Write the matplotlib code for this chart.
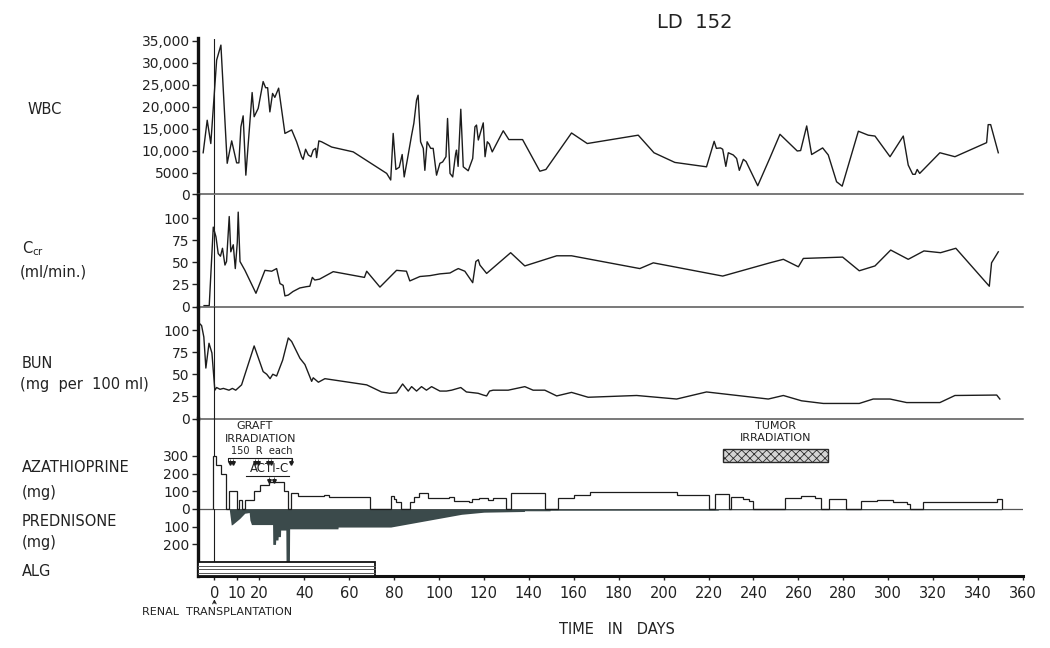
import matplotlib
matplotlib.use("Agg")
import matplotlib.pyplot as plt
from matplotlib.patches import Rectangle

plt.rcParams['font.family'] = ['DejaVu Sans']
plt.rcParams['hatch.linewidth'] = 0.6

# ---------------- data ----------------
wbc_days = [-5.0, -3.2, -1.6, 1.0, 2.9, 5.7, 7.7, 9.9, 10.9, 11.8,
            12.8, 14.0, 16.8, 17.7, 19.5, 21.7, 22.8, 23.7, 24.7, 25.9,
            26.9, 28.6, 31.4, 34.4, 36.6, 38.8, 39.5, 40.6, 41.8, 43.0,
            44.0, 45.1, 45.5, 46.5, 47.7, 52.2, 61.8, 76.7, 78.5, 79.6,
            80.8, 82.3, 83.6, 84.5, 86.0, 87.8, 88.8, 90.0, 90.7, 91.8,
            93.0, 93.7, 94.7, 96.3, 97.4, 98.9, 100.4, 101.6, 103.1, 103.8,
            104.9, 106.1, 107.4, 107.8, 108.5, 109.7, 110.8, 113.0, 115.0, 116.0,
            116.7, 117.5, 119.7, 120.5, 121.5, 122.4, 123.7, 128.6, 131.1, 137.2,
            144.9, 147.6, 159.0, 166.0, 188.7, 195.7, 205.0, 219.1, 222.5, 223.5,
            225.3, 226.3, 227.7, 228.8, 231.0, 232.5, 233.7, 235.5, 236.7, 241.9,
            247.3, 251.8, 259.5, 261.0, 263.7, 265.9, 270.8, 273.3, 277.0, 279.5,
            286.7, 291.1, 294.1, 300.8, 306.7, 308.9, 310.9, 312.0, 312.9, 314.0,
            323.0, 329.7, 343.8, 344.5, 345.6, 349.0]
wbc = [9500, 16900, 11600, 30600, 34000, 7100, 12200, 7200, 7200, 15400,
       17900, 4400, 23200, 17700, 19600, 25700, 24300, 24300, 18800, 23000,
       22100, 24200, 13900, 14700, 12000, 8600, 8000, 10300, 9000, 8600,
       10100, 10500, 8400, 12200, 12000, 10800, 9700, 4800, 3300, 13900,
       5700, 6200, 9100, 4000, 8200, 13500, 16200, 21500, 22600, 12000,
       10500, 5500, 12000, 10500, 10500, 4400, 7100, 7400, 8600, 17300,
       4800, 4000, 9300, 10100, 6400, 19400, 6300, 5400, 8200, 15400,
       15800, 12400, 16300, 8600, 12000, 11500, 9700, 14500, 12500, 12500,
       5300, 5700, 14000, 11600, 13500, 9500, 7300, 6300, 12100, 10500,
       10600, 10300, 6400, 9500, 9000, 8200, 5500, 8000, 7500, 2000,
       8300, 13700, 9900, 10000, 15600, 9100, 10600, 9000, 2900, 1900,
       14400, 13500, 13300, 8600, 13300, 6700, 4600, 4600, 5700, 4800,
       9500, 8600, 11800, 15900, 15900, 9500]

ccr_days = [-4.6, -2.3, -0.5, 0.7, 1.7, 2.7, 3.6, 4.7, 5.4, 6.6,
            7.3, 8.4, 9.3, 10.2, 10.6, 11.4, 13.6, 18.5, 22.5, 25.5,
            27.7, 29.2, 30.6, 31.4, 32.9, 35.0, 38.0, 41.0, 42.5, 43.6,
            44.7, 46.8, 52.9, 66.8, 67.8, 73.7, 81.1, 85.5, 87.0, 91.5,
            96.0, 100.4, 104.9, 107.0, 108.6, 111.5, 115.0, 116.4, 117.5, 118.2,
            121.2, 131.9, 138.2, 152.4, 159.0, 189.4, 195.4, 226.3, 247.3, 253.3,
            260.0, 262.2, 279.7, 287.1, 294.1, 301.1, 308.9, 315.9, 323.3, 330.1,
            345.0, 346.0, 349.0]
ccr = [1, 1, 90, 79, 60, 57, 66, 47, 51, 102,
       62, 70, 43, 73, 107, 51, 41, 15, 41, 40,
       43, 26, 24, 12, 13, 17, 21, 22.5, 23, 33,
       30, 31, 39.5, 33, 40, 22, 41, 40, 29, 34,
       35, 37, 38, 41, 43, 40, 27, 51, 53, 47,
       37.5, 61, 46, 57.5, 57.5, 43, 49.5, 34.5, 49.5, 53.5,
       45, 54.5, 56, 40.5, 46, 64, 53.5, 63, 61, 66,
       23, 49.5, 62]

bun_days = [-6.9, -5.7, -4.7, -3.8, -2.4, -1.1, 0.2, 1.0, 2.5, 4.0,
            6.5, 8.0, 9.5, 12.1, 17.7, 21.7, 23.3, 24.8, 26.0, 27.7,
            30.4, 32.9, 34.4, 38.1, 40.3, 43.3, 44.0, 46.3, 49.2, 67.8,
            74.4, 78.1, 81.1, 83.8, 86.3, 87.8, 90.0, 92.2, 94.4, 96.7,
            98.9, 100.4, 103.3, 105.6, 109.7, 112.2, 117.4, 119.7, 121.2, 122.5,
            124.1, 130.8, 138.2, 141.9, 147.1, 152.4, 159.0, 166.4, 188.0, 205.8,
            219.1, 246.6, 253.3, 261.4, 271.1, 287.1, 293.3, 300.8, 308.2, 323.0,
            329.7, 348.3, 349.7]
bun = [108, 105, 92, 57, 85, 74, 32, 35, 33, 34,
       32, 34, 32, 38, 82, 53, 50, 45, 50, 48,
       66, 91, 87, 68, 61, 42, 46, 41, 45, 38,
       30, 28.5, 29, 39, 31, 36, 31, 36, 32, 36,
       33, 31, 31, 32, 35, 30, 28.5, 26.5, 25.5, 31,
       32, 32, 36, 32, 32, 25.5, 29.5, 24, 26, 22,
       30, 22, 26, 20, 17, 17, 22, 22, 18, 18,
       26, 26.5, 22]

# azathioprine dose steps: value holds from edge[i] to edge[i+1]
aza_edges = [-0.8, 0.7, 3.0, 5.1, 6.6, 9.9, 10.9, 12.5, 13.7, 17.5,
             20.2, 24.5, 31.2, 32.6, 34.0, 37.0, 49.0, 51.0, 69.2, 78.5,
             79.8, 81.0, 83.0, 87.0, 89.0, 91.0, 95.0, 104.6, 106.5, 113.4,
             114.5, 118.0, 122.0, 124.0, 129.8, 132.0, 147.1, 152.8, 160.2, 167.2,
             205.8, 220.3, 222.8, 229.0, 230.0, 235.5, 238.0, 240.0, 254.0, 261.0,
             267.4, 270.0, 273.7, 281.0, 287.8, 294.8, 302.0, 308.2, 309.7, 315.6,
             348.3, 350.5]
aza_mg = [300, 250, 200, 0, 100, 0, 50, 0, 50, 100,
          135, 150, 100, 0, 88, 75, 80, 70, 0, 72,
          55, 42, 0, 40, 70, 88, 62, 68, 48, 40,
          55, 60, 50, 64, 0, 92, 0, 64, 79, 94,
          79, 0, 83, 0, 70, 55, 45, 0, 60, 75,
          60, 0, 56, 0, 45, 51, 41, 28, 0, 41,
          56]

pred_days = [6.6, 7.5, 8.0, 11.3, 13.5, 15.5, 15.8, 16.5, 25.9, 26.0,
             27.2, 27.3, 28.3, 28.4, 29.4, 29.5, 31.8, 31.9, 33.4, 33.5,
             55.0, 55.1, 78.5, 96.0, 110.0, 120.0, 138.0, 138.1, 149.4, 149.5,
             224.3, 224.4, 350.5]
pred_mg = [0, 90, 88, 53, 24, 20, 62, 88, 88, 200,
           200, 175, 175, 156, 156, 119, 119, 300, 300, 112,
           112, 102, 102, 62, 30, 18, 14, 10, 10, 7,
           7, 4, 4]

alg_period = (-7.3, 71.6)
graft_irr_days = [7.0, 8.1, 18.0, 19.2, 24.0, 25.2, 33.9]
acti_c_days = [24.3, 26.6]
tumor_irr_period = (226.5, 273.0)

x_ticks = [0, 10, 20, 40, 60, 80, 100, 120, 140, 160, 180, 200, 220, 240,
           260, 280, 300, 320, 340, 360]
wbc_ticks = [0, 5000, 10000, 15000, 20000, 25000, 30000, 35000]
wbc_labels = ['0', '5000', '10,000', '15,000', '20,000', '25,000', '30,000', '35,000']
lab_ticks = [0, 25, 50, 75, 100]
drug_ticks = [-200, -100, 0, 100, 200, 300]
drug_labels = ['200', '100', '0', '100', '200', '300']

# ---------------- layout ----------------
W, H = 1050, 648
fig = plt.figure(figsize=(W / 100, H / 100), dpi=100)
fig.patch.set_facecolor('white')


def px_axes(left, top, right, bottom):
    return fig.add_axes([left / W, 1 - bottom / H, (right - left) / W, (bottom - top) / H])


XL, XR = 198, 1023
XLIM = (-7.3, 360.0)
ax1 = px_axes(XL, 38.5, XR, 194.5)
ax2 = px_axes(XL, 194.5, XR, 306.5)
ax3 = px_axes(XL, 306.5, XR, 418.5)
ax4 = px_axes(XL, 418.5, XR, 576)

ax1.set_ylim(0, 35000 * (194.5 - 38.5) / (194.5 - 40.7))
ax2.set_ylim(0, 112 / 0.882)
ax3.set_ylim(0, 112 / 0.885)
ax4.set_ylim(-(576 - 509) / 0.177, (509 - 418.5) / 0.177)

LC = '#1c1c1c'
TC = '#222222'
for ax in (ax1, ax2, ax3, ax4):
    ax.set_xlim(*XLIM)
    ax.set_facecolor('none')
    for s in ('top', 'right'):
        ax.spines[s].set_visible(False)
    ax.spines['left'].set_linewidth(2.4)
    ax.spines['left'].set_color('#111111')
    ax.tick_params(axis='y', labelsize=10, length=4, width=1, pad=2, colors=TC)

for ax in (ax1, ax2, ax3):
    ax.axvline(0, color=LC, lw=0.8, zorder=1)
    ax.spines['bottom'].set_linewidth(1.1)
    ax.spines['bottom'].set_color('#555555')
    ax.set_xticks([])

ax4.spines['bottom'].set_linewidth(2.2)
ax4.spines['bottom'].set_color('#111111')
ax4.set_xticks(x_ticks)
ax4.set_xticklabels([str(t) for t in x_ticks])
ax4.tick_params(axis='x', labelsize=10.5, length=3, width=1, pad=4, colors=TC)

# ---------------- series ----------------
ax1.plot(wbc_days, wbc, color=LC, lw=1.0)
ax1.set_yticks(wbc_ticks)
ax1.set_yticklabels(wbc_labels)

ax2.plot(ccr_days, ccr, color=LC, lw=1.0)
ax2.set_yticks(lab_ticks)
ax2.set_yticklabels([str(t) for t in lab_ticks])

ax3.plot(bun_days, bun, color=LC, lw=1.0)
ax3.set_yticks(lab_ticks)
ax3.set_yticklabels([str(t) for t in lab_ticks])

# drugs
ax4.axhline(0, color='#555555', lw=0.9, zorder=1)
ax4.stairs(aza_mg, aza_edges, baseline=0, fill=True, color='white', zorder=2)
ax4.stairs(aza_mg, aza_edges, baseline=0, color=LC, lw=0.9, zorder=3)
ax4.fill_between(pred_days, 0, [-v for v in pred_mg], color='#3b4a4b', lw=0, zorder=2)
ax4.set_yticks(drug_ticks)
ax4.set_yticklabels(drug_labels)

ylo = ax4.get_ylim()[0]
alg_top = -301
ax4.plot([0, 0], [alg_top, ax4.get_ylim()[1]], color=LC, lw=0.8, zorder=1)

# ALG bar
ax4.add_patch(Rectangle((alg_period[0], ylo), alg_period[1] - alg_period[0], alg_top - ylo,
                        facecolor='white', edgecolor='#111111', lw=1.3, zorder=4, clip_on=False))
for k in range(1, 4):
    yy = alg_top + (ylo - alg_top) * k / 4.0
    ax4.plot([alg_period[0], alg_period[1]], [yy, yy], color='#555555', lw=0.7, zorder=5)

# graft irradiation annotation
ax4.text(18, 469, 'GRAFT', ha='center', va='center', fontsize=8, color=TC)
ax4.text(20.5, 397, 'IRRADIATION', ha='center', va='center', fontsize=8, color=TC)
ax4.text(21, 328, '150  R  each', ha='center', va='center', fontsize=7, color=TC)
ax4.plot([6, 6, 34.5, 34.5], [274, 288, 288, 274], color=LC, lw=0.8)
ax4.vlines(graft_irr_days, 258, 280, color=LC, lw=0.5)
ax4.plot(graft_irr_days, [258] * len(graft_irr_days), linestyle='none', marker='v',
         markersize=2.6, color=LC)
ax4.text(24.4, 228, 'ACTI-C', ha='center', va='center', fontsize=8.5, color=TC)
ax4.plot([14, 33.2], [186, 186], color=LC, lw=0.8)
ax4.vlines(acti_c_days, 160, 180, color=LC, lw=0.5)
ax4.plot(acti_c_days, [160] * len(acti_c_days), linestyle='none', marker='v',
         markersize=2.6, color=LC)

# tumor irradiation
ax4.text(sum(tumor_irr_period) / 2, 469, 'TUMOR', ha='center', va='center', fontsize=8, color=TC)
ax4.text(sum(tumor_irr_period) / 2, 401, 'IRRADIATION', ha='center', va='center', fontsize=8, color=TC)
ax4.add_patch(Rectangle((tumor_irr_period[0], 263), tumor_irr_period[1] - tumor_irr_period[0], 76,
                        facecolor='#d4d4d4', edgecolor='#2a2a2a', hatch='xxxx', lw=1.0, zorder=4))

# renal transplantation marker
ax4.annotate('', xy=(0, -0.13), xytext=(0, -0.19), xycoords=('data', 'axes fraction'),
             textcoords=('data', 'axes fraction'),
             arrowprops=dict(arrowstyle='->', lw=0.8, color=TC, mutation_scale=6))
ax4.text(1.3, -0.23, 'RENAL  TRANSPLANTATION', transform=ax4.get_xaxis_transform(),
         ha='center', va='center', fontsize=8, color=TC)

# ---------------- labels ----------------
def flabel(x, y, s, size=10.5):
    fig.text(x / W, 1 - y / H, s, ha='left', va='center', fontsize=size, color=TC)

flabel(28, 110, 'WBC')
flabel(22, 249, r'C$_{\mathregular{cr}}$')
flabel(20, 272, '(ml/min.)')
flabel(22, 363, 'BUN')
flabel(20, 385, '(mg  per  100 ml)')
flabel(22, 468, 'AZATHIOPRINE')
flabel(22, 492, '(mg)')
flabel(22, 521, 'PREDNISONE')
flabel(22, 543, '(mg)')
flabel(22, 571, 'ALG')

fig.text(695 / W, 1 - 22 / H, 'LD  152', ha='center', va='center', fontsize=14, color=TC)
fig.text(617 / W, 1 - 630 / H, 'TIME   IN   DAYS', ha='center', va='center', fontsize=10.5,
         color=TC)

fig.savefig('out.png', dpi=100, facecolor='white')
